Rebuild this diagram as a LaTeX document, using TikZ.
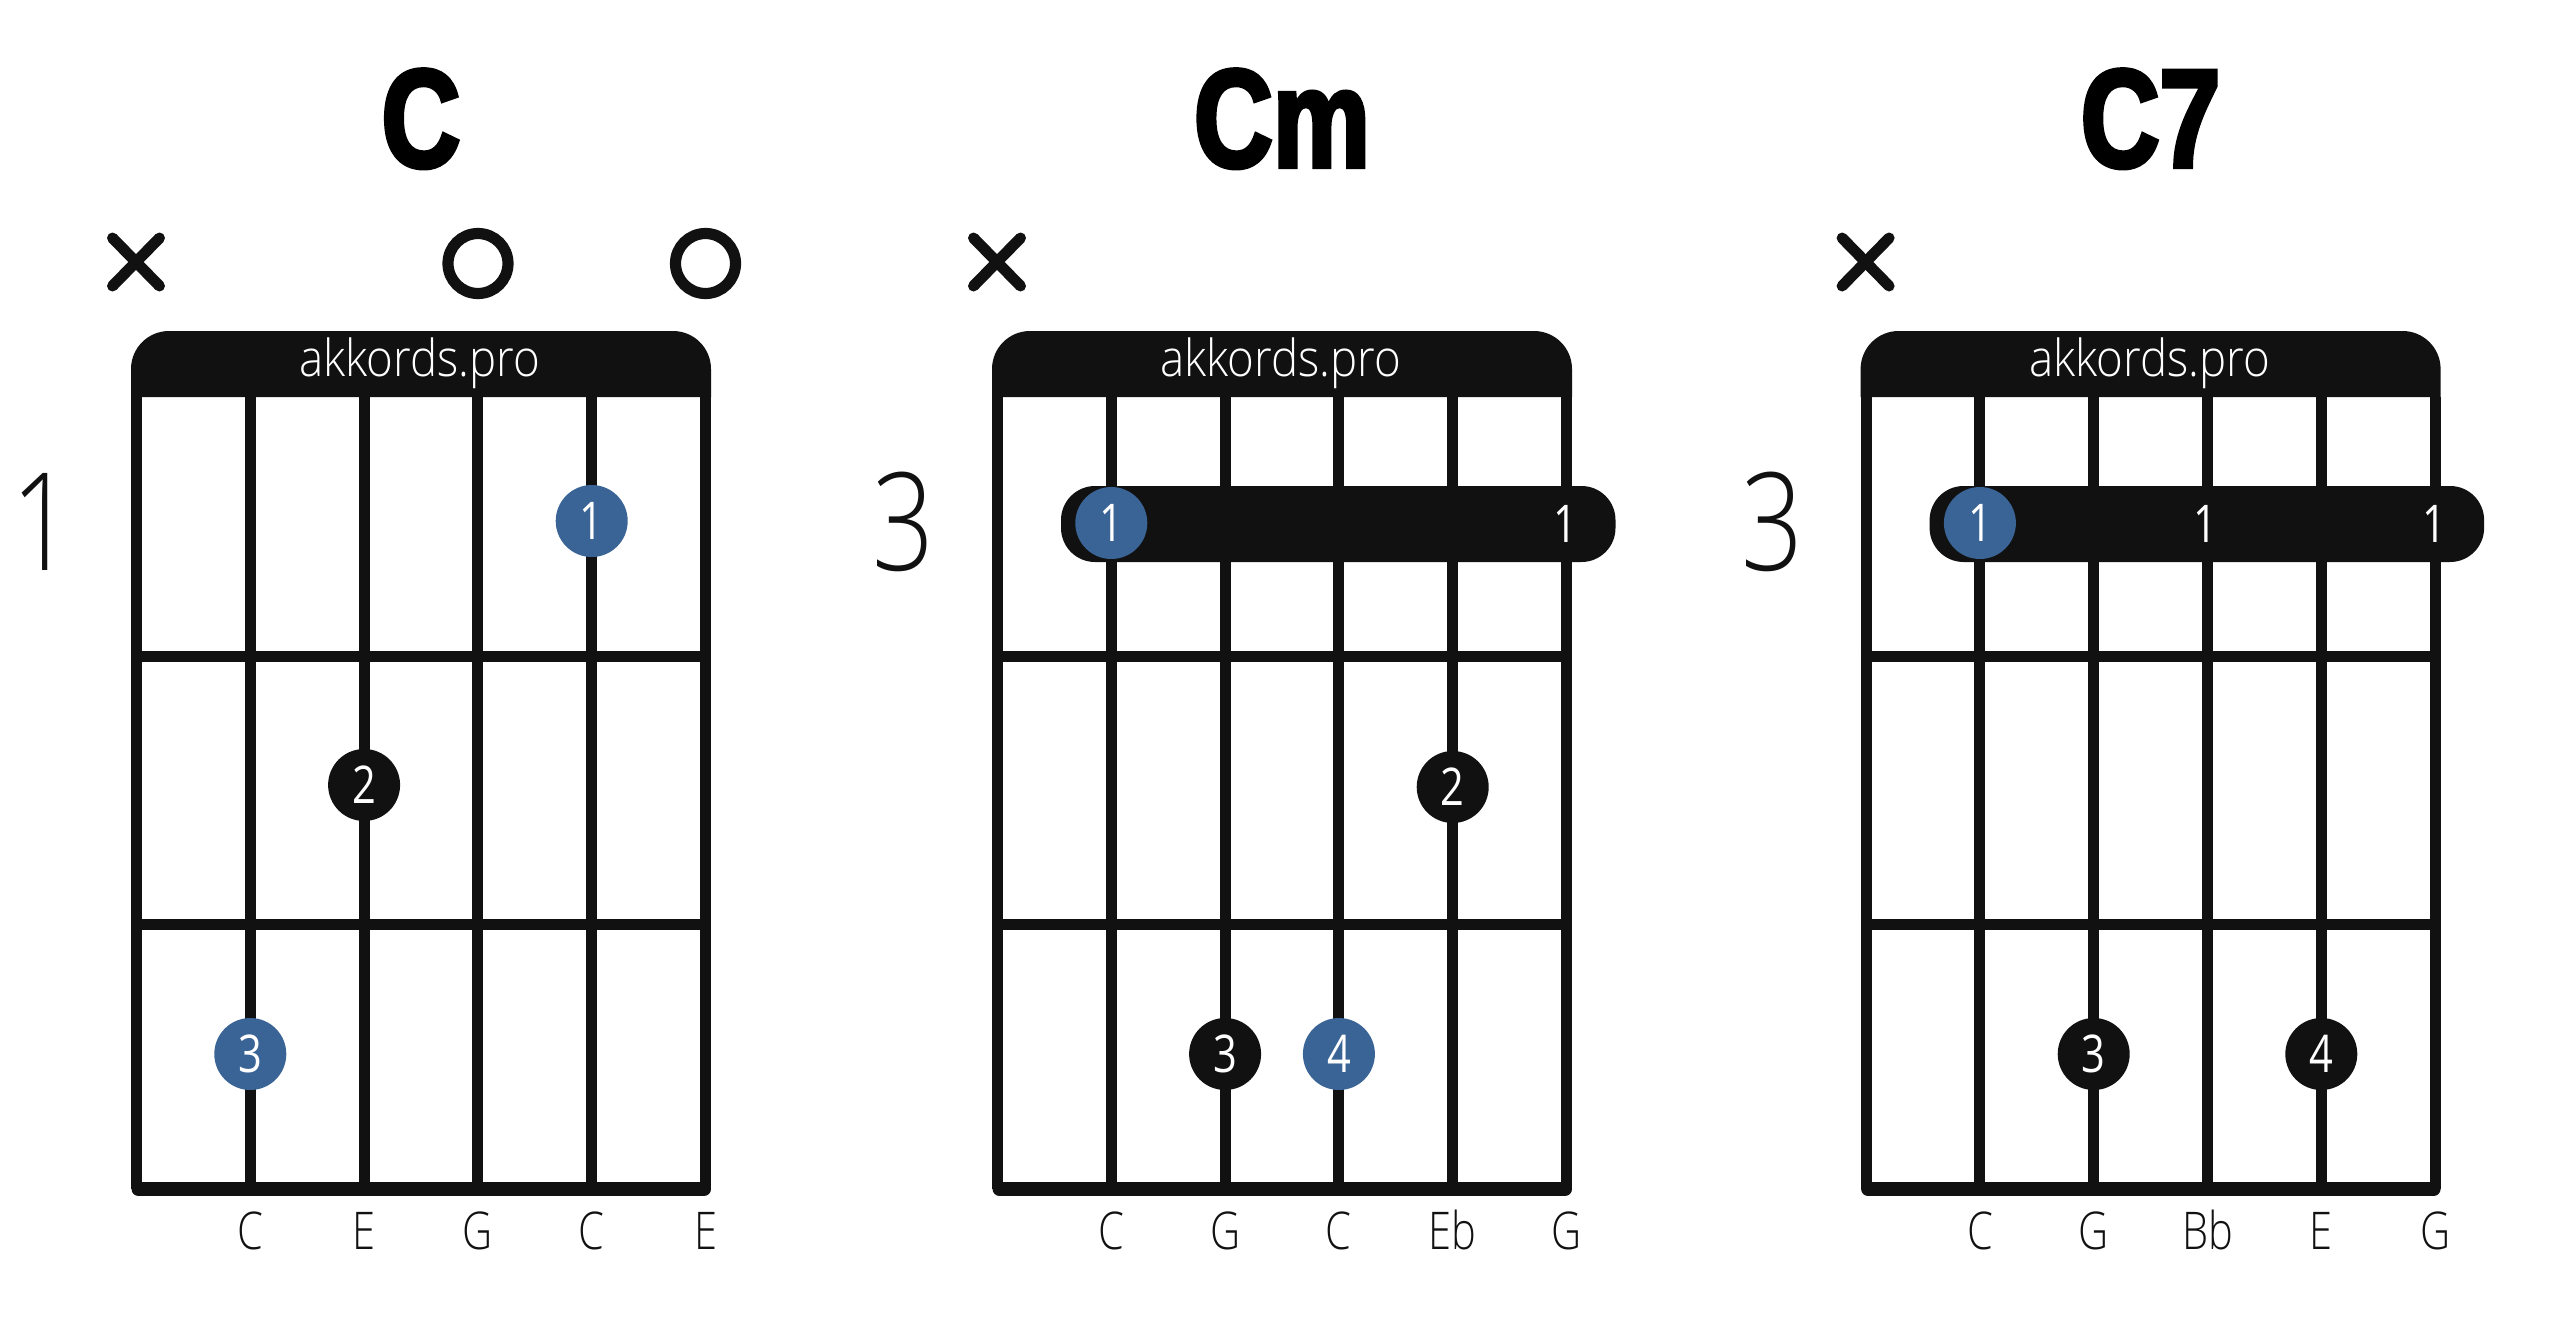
\documentclass[tikz,border=0pt]{standalone}
\usepackage{fontspec}
\setmainfont{Liberation Sans}
\newfontfamily\titlef[FakeStretch=0.78,FakeBold=3]{Liberation Sans Bold}
\newfontfamily\lightf[FakeStretch=0.8]{Open Sans Light}
\newfontfamily\brandf[FakeStretch=0.895]{Open Sans Light}
\newfontfamily\regf[FakeStretch=0.8]{Open Sans}
\definecolor{ink}{HTML}{111111}
\definecolor{fingerblue}{HTML}{3A6496}
\tikzset{
  x=0.5pt,y=-0.5pt,
  stringline/.style={ink,line width=5.5pt},
  fretline/.style={ink,line width=5.5pt},
  dotmark/.style={circle,minimum size=36pt,inner sep=0pt,text=white,font=\regf\fontsize{26}{26}\selectfont},
  blackdot/.style={dotmark,fill=ink},
  bluedot/.style={dotmark,fill=fingerblue},
  barnum/.style={text=white,inner sep=0pt,font=\regf\fontsize{26}{26}\selectfont},
  notelabel/.style={inner sep=0pt,anchor=base,text=ink,font=\lightf\fontsize{26}{26}\selectfont},
  title/.style={inner sep=0pt,anchor=base,font=\titlef\fontsize{70}{70}\selectfont},
  fretnum/.style={inner sep=0pt,anchor=base,text=ink,font=\lightf\fontsize{68}{68}\selectfont},
  brand/.style={inner sep=0pt,anchor=base,text=white,font=\brandf\fontsize{25.5}{26}\selectfont},
  openmark/.style={circle,draw=ink,line width=5.6pt,minimum size=30pt,inner sep=0pt},
  mutedline/.style={ink,line width=5.5pt,line cap=round},
}
% #1 name prefix, #2 x offset, #3 title, #4 fret, #5..#9 notes
\newcommand{\chordgrid}[9]{%
  \begin{scope}[xshift=#2*0.5pt]
    \fill[ink] (131,397) -- (131,369) arc[start angle=180,end angle=270,radius=38] -- (673,331) arc[start angle=-90,end angle=0,radius=38] -- (711,397) -- cycle;
    \foreach \sx in {136.5,250.3,364.1,477.9,591.7,705.5}{
      \draw[stringline] (\sx,397) -- (\sx,1189);
    }
    \draw[fretline] (131,656.5) -- (711,656.5);
    \draw[fretline] (131,924) -- (711,924);
    \draw[ink,line width=7pt,line cap=round] (138.5,1189) -- (704,1189);
    \node[brand] (#1brand) at (420,376) {akkords.pro};
    \node[title] (#1title) at (421,167) {#3};
    \node[fretnum] (#1fret) at (43,570) {#4};
    \coordinate (#1ma) at (136,262);
    \draw[mutedline] ([shift={(-23.5,-24)}]#1ma) -- ([shift={(23.5,24)}]#1ma);
    \draw[mutedline] ([shift={(-23.5,24)}]#1ma) -- ([shift={(23.5,-24)}]#1ma);
    \node[notelabel] (#1n1) at (250.3,1249) {#5};
    \node[notelabel] (#1n2) at (364.1,1249) {#6};
    \node[notelabel] (#1n3) at (477.9,1249) {#7};
    \node[notelabel] (#1n4) at (591.7,1249) {#8};
    \node[notelabel] (#1n5) at (705.5,1249) {#9};
  \end{scope}%
}
\begin{document}
\begin{tikzpicture}
\useasboundingbox (0,0) rectangle (2560,1328);
% C
\chordgrid{a}{0}{C}{1}{C}{E}{G}{C}{E}
\node[openmark] (ao1) at (478,263.5) {};
\node[openmark] (ao2) at (705.5,263.5) {};
\node[bluedot] (ad1) at (591.7,521) {1};
\node[blackdot] (ad2) at (364.1,785) {2};
\node[bluedot] (ad3) at (250.3,1054) {3};
% Cm
\chordgrid{b}{861}{Cm}{3}{C}{G}{C}{Eb}{G}
\fill[ink,rounded corners=17pt] (1061,486) rectangle (1615.5,562);
\node[bluedot] (bd1) at (1111.3,523) {1};
\node[barnum] (bb1) at (1565.5,524) {1};
\node[blackdot] (bd2) at (1452.7,787) {2};
\node[blackdot] (bd3) at (1225.1,1054) {3};
\node[bluedot] (bd4) at (1338.9,1054) {4};
% C7
\chordgrid{c}{1729.6}{C7}{3}{C}{G}{Bb}{E}{G}
\fill[ink,rounded corners=17pt] (1929.6,486) rectangle (2484.1,562);
\node[bluedot] (cd1) at (1979.9,523) {1};
\node[barnum] (cb1) at (2205,524) {1};
\node[barnum] (cb2) at (2434,524) {1};
\node[blackdot] (cd3) at (2093.7,1054) {3};
\node[blackdot] (cd4) at (2321.3,1054) {4};
\end{tikzpicture}
\end{document}
